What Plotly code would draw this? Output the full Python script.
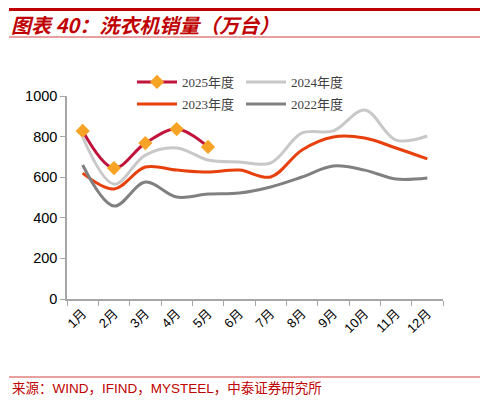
import plotly.graph_objects as go

# 月份与各年度洗衣机销量（万台）
months = ["1月", "2月", "3月", "4月", "5月", "6月", "7月", "8月", "9月", "10月", "11月", "12月"]
sales_2025 = [828, 645, 768, 837, 749]
sales_2024 = [798, 566, 709, 744, 685, 675, 670, 818, 828, 931, 783, 803]
sales_2023 = [620, 542, 650, 635, 625, 635, 601, 734, 798, 793, 744, 690]
sales_2022 = [660, 458, 576, 502, 517, 522, 552, 601, 655, 635, 591, 596]
y_ticks = [0, 200, 400, 600, 800, 1000]

# 页面 body 默认有 8px 边距，所以图本身小 8px，坐标也减去 8
OFF = 8
W, H = 488 - OFF, 400 - OFF
L, R, T, B = 67 - OFF, 45, 96 - OFF, 101
pw, ph = W - L - R, H - T - B


def px_x(x):
    return (x - OFF - L) / pw


def px_y(y):
    return (H - B - (y - OFF)) / ph


red = "#C00000"
legend_font = dict(family="Liberation Serif, Noto Sans CJK SC", size=13, color="#404040")

fig = go.Figure()
fig.add_trace(go.Scatter(x=months[:len(sales_2025)], y=sales_2025, name="2025年度",
                         mode="lines+markers", line=dict(color="#C0143C", width=3, shape="spline"),
                         marker=dict(symbol="diamond", size=11, color="#F7A325"), legend="legend"))
fig.add_trace(go.Scatter(x=months, y=sales_2024, name="2024年度", mode="lines",
                         line=dict(color="#C8C8C8", width=3, shape="spline"), legend="legend"))
fig.add_trace(go.Scatter(x=months, y=sales_2023, name="2023年度", mode="lines",
                         line=dict(color="#E8400C", width=3, shape="spline"), legend="legend2"))
fig.add_trace(go.Scatter(x=months, y=sales_2022, name="2022年度", mode="lines",
                         line=dict(color="#808080", width=3, shape="spline"), legend="legend2"))

leg = dict(orientation="h", x=px_x(132), xanchor="left", yanchor="middle",
           font=legend_font, bgcolor="rgba(0,0,0,0)", entrywidth=54, entrywidthmode="pixels",
           itemwidth=40, tracegroupgap=0)

fig.update_layout(
    width=W, height=H,
    margin=dict(l=L, r=R, t=T, b=B, autoexpand=False),
    paper_bgcolor="white", plot_bgcolor="white",
    font=dict(family="Liberation Sans, Arial, Noto Sans CJK SC", size=13, color="#000000"),
    legend=dict(leg, y=px_y(82)),
    legend2=dict(leg, y=px_y(104)),
    xaxis=dict(type="category", categoryorder="array", categoryarray=months,
               range=[-0.5, 11.5], showline=True, linecolor="#A6A6A6", linewidth=1.5,
               ticks="outside", ticklen=5, tickcolor="#A6A6A6", tickson="boundaries",
               tickangle=-45, tickfont=dict(size=13), showgrid=False, zeroline=False,
               automargin=False),
    yaxis=dict(range=[0, 1000], tickvals=y_ticks, showline=True, linecolor="#A6A6A6",
               linewidth=1.5, ticks="outside", ticklen=5, tickcolor="#A6A6A6",
               showgrid=False, zeroline=False, tickfont=dict(size=14.5), automargin=False),
    showlegend=True,
)

# 标题、分隔线与资料来源
fig.add_shape(type="line", xref="paper", yref="paper", x0=px_x(9), x1=px_x(483),
              y0=px_y(9.5), y1=px_y(9.5), line=dict(color=red, width=3))
fig.add_shape(type="line", xref="paper", yref="paper", x0=px_x(9), x1=px_x(483),
              y0=px_y(37), y1=px_y(37), line=dict(color="#D04040", width=1))
fig.add_shape(type="line", xref="paper", yref="paper", x0=px_x(9), x1=px_x(483),
              y0=px_y(377), y1=px_y(377), line=dict(color="#D04040", width=1))
fig.add_annotation(text="<b><i>图表 40：洗衣机销量（万台）</i></b>", xref="paper", yref="paper",
                   x=px_x(10), y=px_y(24), xanchor="left", yanchor="middle", showarrow=False,
                   borderpad=0, font=dict(family="Noto Sans CJK SC", size=20, color=red))
fig.add_annotation(text="来源：WIND，IFIND，MYSTEEL，中泰证券研究所", xref="paper", yref="paper",
                   x=px_x(10), y=px_y(388), xanchor="left", yanchor="middle", showarrow=False,
                   font=dict(family="Liberation Sans, Noto Sans CJK SC", size=13.5, color=red))

fig.write_html("out.html")
